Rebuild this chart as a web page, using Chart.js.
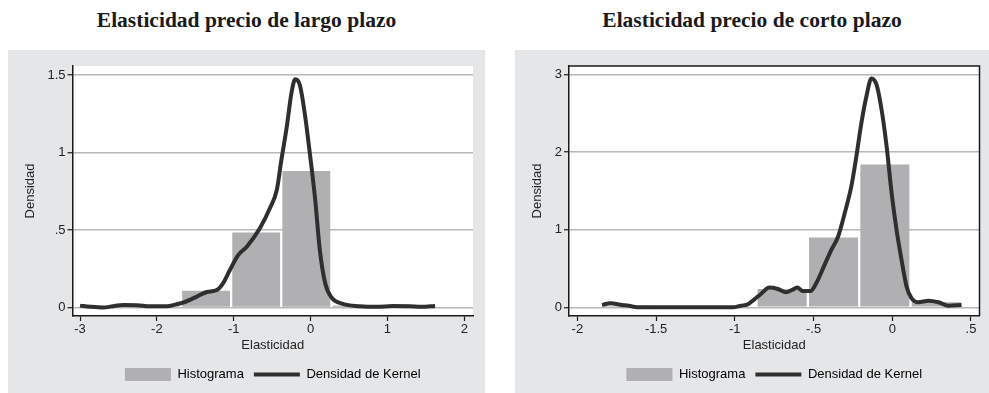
<!DOCTYPE html>
<html>
<head>
<meta charset="utf-8">
<script src="https://cdn.jsdelivr.net/npm/chart.js@4.4.0/dist/chart.umd.min.js"></script>
<style>
    html, body { margin: 0; padding: 0; background: #fff; }
    body { width: 989px; height: 393px; position: relative; overflow: hidden; }
    .titulo {
        position: absolute; top: 7px; height: 26px; line-height: 26px;
        text-align: center; font-family: "Liberation Serif", "DejaVu Serif", serif;
        font-weight: bold; font-size: 21.5px; color: #1a1a1a;
    }
    .panel { position: absolute; top: 50px; height: 343px; background: #e5e6e8; }
    .panel canvas { display: block; }
</style>
</head>
<body>
<div class="titulo" style="left:8px;width:477px;">Elasticidad precio de largo plazo</div>
<div class="titulo" style="left:515px;width:474px;">Elasticidad precio de corto plazo</div>
<div class="panel" style="left:8px;width:477px;"><canvas id="largoChart" width="477" height="343"></canvas></div>
<div class="panel" style="left:515px;width:474px;"><canvas id="cortoChart" width="474" height="343"></canvas></div>

<script>
// ---------- DATOS: largo plazo ----------
const largoBinCenters = [-2.664, -2.012, -1.36, -0.708, -0.056, 0.596, 1.248];
const largoBinHeights = [0.008, 0.008, 0.108, 0.483, 0.881, 0.012, 0.005];
const largoKernelX = [-3.0, -2.87, -2.70, -2.55, -2.44, -2.26, -2.09, -1.87, -1.75, -1.66, -1.48, -1.35,
    -1.22, -1.14, -1.05, -0.94, -0.83, -0.66, -0.53, -0.44, -0.38, -0.31, -0.25, -0.20, -0.14, -0.07,
    -0.01, 0.06, 0.12, 0.19, 0.27, 0.42, 0.64, 0.86, 1.07, 1.29, 1.44, 1.62];
const largoKernelY = [0.012, 0.005, 0.0, 0.01, 0.016, 0.015, 0.008, 0.008, 0.02, 0.031, 0.07, 0.10,
    0.113, 0.156, 0.242, 0.339, 0.392, 0.511, 0.64, 0.758, 0.952, 1.166, 1.382, 1.472, 1.435, 1.231,
    0.995, 0.694, 0.371, 0.156, 0.066, 0.023, 0.008, 0.004, 0.01, 0.008, 0.004, 0.01];
const largoXTicks = [-3, -2, -1, 0, 1, 2];
const largoXLabels = ['-3', '-2', '-1', '0', '1', '2'];
const largoYTicks = [0, 0.5, 1, 1.5];
const largoYLabels = ['0', '.5', '1', '1.5'];
const largoXRange = [-3.098, 2.113];
const largoYRange = [-0.055, 1.558];

// ---------- DATOS: corto plazo ----------
const cortoBinCenters = [-1.677, -1.351, -1.025, -0.699, -0.373, -0.047, 0.279];
const cortoBinHeights = [0.02, 0, 0.01, 0.236, 0.9, 1.84, 0.065];
const cortoKernelX = [-1.843, -1.79, -1.716, -1.673, -1.62, -1.47, -1.26, -1.014, -0.961, -0.918,
    -0.876, -0.834, -0.78, -0.727, -0.674, -0.636, -0.604, -0.568, -0.519, -0.483, -0.43, -0.387,
    -0.344, -0.302, -0.26, -0.228, -0.196, -0.164, -0.132, -0.10, -0.068, -0.036, -0.004, 0.027,
    0.059, 0.091, 0.123, 0.166, 0.23, 0.293, 0.357, 0.44];
const cortoKernelY = [0.03, 0.052, 0.03, 0.021, 0.0, 0.0, 0.0, 0.0, 0.021, 0.038,
    0.103, 0.172, 0.254, 0.236, 0.194, 0.224, 0.254, 0.21, 0.21, 0.31, 0.547, 0.74,
    0.912, 1.214, 1.558, 1.946, 2.377, 2.72, 2.95, 2.87, 2.55, 2.075, 1.47, 1.0,
    0.61, 0.266, 0.116, 0.065, 0.085, 0.065, 0.021, 0.03];
const cortoXTicks = [-2, -1.5, -1, -0.5, 0, 0.5];
const cortoXLabels = ['-2', '-1.5', '-1', '-.5', '0', '.5'];
const cortoYTicks = [0, 1, 2, 3];
const cortoYLabels = ['0', '1', '2', '3'];
const cortoXRange = [-2.053, 0.554];
const cortoYRange = [-0.112, 3.11];

const COLOR_BARRA = '#b0b0b2';
const COLOR_LINEA = '#2f2f2f';
const COLOR_EJE = '#1a1a1a';
const COLOR_GRID = '#b8b8b8';

Chart.defaults.font.family = '"Liberation Sans", Arial, sans-serif';
Chart.defaults.font.size = 13;
Chart.defaults.color = '#222';

// fondo blanco del área de trazado y marco opcional
const areaPlot = {
    id: 'areaPlot',
    beforeDraw(chart) {
        const { ctx, chartArea: a } = chart;
        ctx.save();
        ctx.fillStyle = '#fff';
        ctx.fillRect(a.left, a.top, a.width, a.height);
        ctx.restore();
    },
    afterDraw(chart, args, opts) {
        if (!opts.marco) return;
        const { ctx, chartArea: a } = chart;
        ctx.save();
        ctx.strokeStyle = COLOR_EJE;
        ctx.lineWidth = 1.5;
        ctx.beginPath();
        ctx.moveTo(a.left, a.top);
        ctx.lineTo(a.right, a.top);
        ctx.lineTo(a.right, a.bottom);
        ctx.stroke();
        ctx.restore();
    },
    // centrar la leyenda sobre el área de trazado
    afterLayout(chart) {
        const lg = chart.legend;
        if (!lg) return;
        const dx = (chart.chartArea.left + chart.chartArea.right) / 2 - (lg.left + lg.right) / 2;
        lg.left += dx;
        lg.right += dx;
    }
};

function crearGrafico(id, cfg) {
    const ctx = document.getElementById(id).getContext('2d');
    return new Chart(ctx, {
        type: 'bar',
        data: {
            datasets: [{
                type: 'line',
                label: 'Densidad de Kernel',
                data: cfg.kx.map((x, i) => ({ x: x, y: cfg.ky[i] })),
                borderColor: COLOR_LINEA,
                borderWidth: 4,
                pointRadius: 0,
                fill: false,
                cubicInterpolationMode: 'monotone',
                order: 0
            }, {
                type: 'bar',
                label: 'Histograma',
                data: cfg.bx.map((x, i) => ({ x: x, y: cfg.by[i] })),
                backgroundColor: COLOR_BARRA,
                borderWidth: 0,
                barPercentage: 0.955,
                categoryPercentage: 1,
                order: 1
            }]
        },
        options: {
            responsive: false,
            animation: false,
            devicePixelRatio: 1,
            layout: { padding: { left: 0, top: 16, right: cfg.padRight, bottom: 2 } },
            plugins: {
                areaPlot: { marco: cfg.marco },
                tooltip: { enabled: false },
                legend: {
                    display: true,
                    position: 'bottom',
                    labels: {
                        usePointStyle: true,
                        pointStyleWidth: 46,
                        boxHeight: 13,
                        padding: 10,
                        color: '#222',
                        font: { size: 13 },
                        generateLabels: () => [
                            { text: 'Histograma', fillStyle: COLOR_BARRA, strokeStyle: COLOR_BARRA, lineWidth: 0, pointStyle: 'rect', hidden: false, datasetIndex: 1 },
                            { text: 'Densidad de Kernel', fillStyle: COLOR_LINEA, strokeStyle: COLOR_LINEA, lineWidth: 4, pointStyle: 'line', hidden: false, datasetIndex: 0 }
                        ]
                    }
                }
            },
            scales: {
                x: {
                    type: 'linear',
                    min: cfg.xr[0],
                    max: cfg.xr[1],
                    offset: false,
                    afterBuildTicks: s => { s.ticks = cfg.xt.map(v => ({ value: v })); },
                    afterFit: s => { s.height = 42; },
                    ticks: {
                        autoSkip: false,
                        maxRotation: 0,
                        padding: 1,
                        color: '#222',
                        callback: (v, i) => cfg.xl[i]
                    },
                    grid: {
                        display: true,
                        offset: false,
                        drawOnChartArea: false,
                        drawTicks: true,
                        tickLength: 5,
                        tickColor: COLOR_EJE,
                        tickWidth: 1.2
                    },
                    border: { display: true, color: COLOR_EJE, width: 1.5 },
                    title: { display: true, text: 'Elasticidad', color: '#222', font: { size: 13 }, padding: { top: 0, bottom: 5 } }
                },
                y: {
                    type: 'linear',
                    min: cfg.yr[0],
                    max: cfg.yr[1],
                    afterBuildTicks: s => { s.ticks = cfg.yt.map(v => ({ value: v })); },
                    afterFit: s => { s.width = cfg.yWidth; },
                    ticks: {
                        padding: 2,
                        color: '#222',
                        callback: (v, i) => cfg.yl[i]
                    },
                    grid: {
                        color: COLOR_GRID,
                        lineWidth: 1.5,
                        drawTicks: true,
                        tickLength: 5,
                        tickColor: COLOR_EJE,
                        tickWidth: 1.2
                    },
                    border: { display: true, color: COLOR_EJE, width: 1.5 },
                    title: { display: true, text: 'Densidad', color: '#222', font: { size: 13 }, padding: { top: 15, bottom: 0 } }
                }
            }
        },
        plugins: [areaPlot]
    });
}

crearGrafico('largoChart', {
    bx: largoBinCenters, by: largoBinHeights, kx: largoKernelX, ky: largoKernelY,
    xt: largoXTicks, xl: largoXLabels, yt: largoYTicks, yl: largoYLabels,
    xr: largoXRange, yr: largoYRange, yWidth: 64.5, padRight: 12, marco: false
});

crearGrafico('cortoChart', {
    bx: cortoBinCenters, by: cortoBinHeights, kx: cortoKernelX, ky: cortoKernelY,
    xt: cortoXTicks, xl: cortoXLabels, yt: cortoYTicks, yl: cortoYLabels,
    xr: cortoXRange, yr: cortoYRange, yWidth: 54, padRight: 9.5, marco: true
});
</script>
</body>
</html>
